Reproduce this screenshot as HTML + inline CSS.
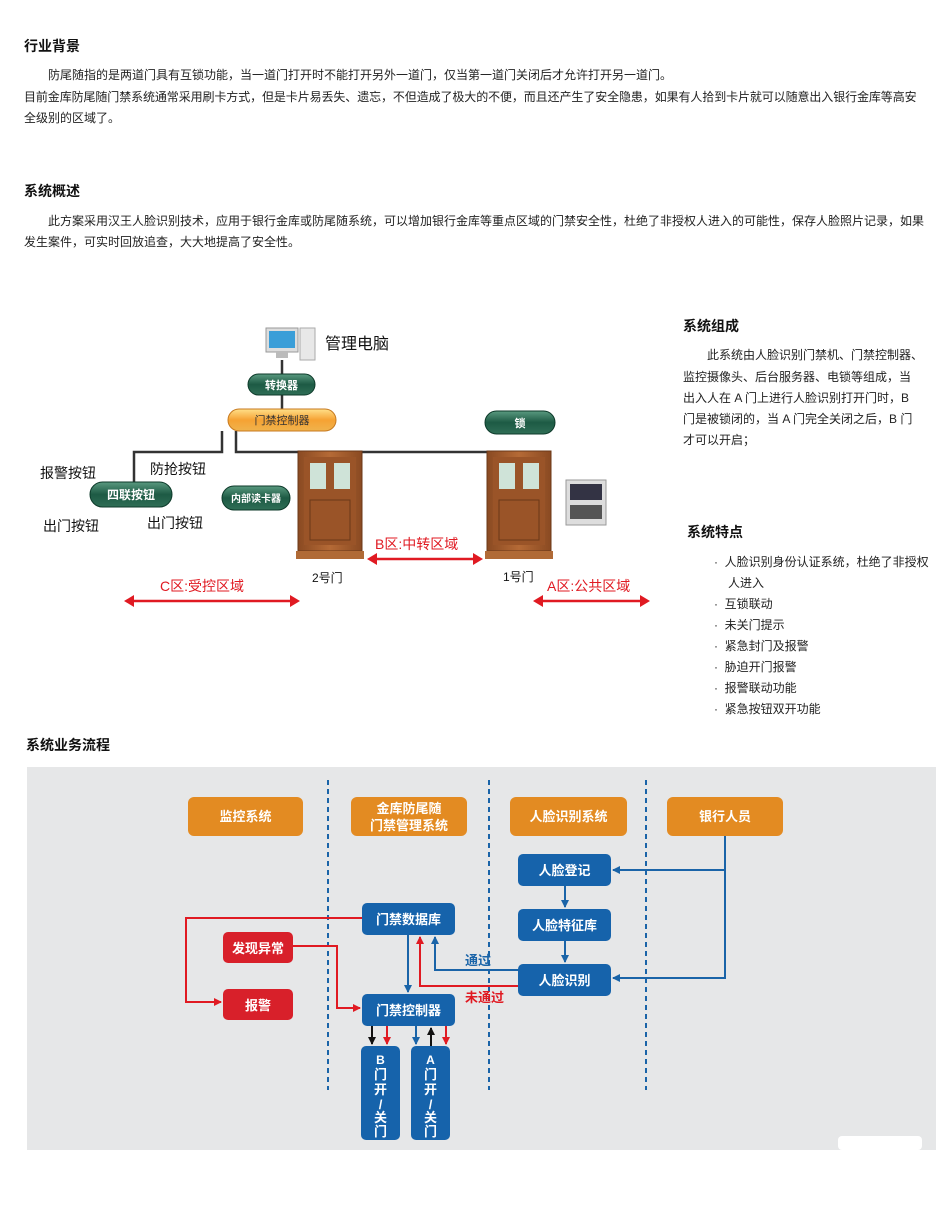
<!DOCTYPE html>
<html><head><meta charset="utf-8">
<style>
body{margin:0;width:942px;height:1215px;background:#fff;position:relative;overflow:hidden;font-family:"Liberation Sans","Noto Sans CJK SC",sans-serif;color:#222}
.t{position:absolute;font-size:12px;white-space:nowrap;line-height:14px}
.h{position:absolute;font-size:14px;font-weight:bold;color:#111;white-space:nowrap;line-height:16px}
svg text{font-family:"Liberation Sans","Noto Sans CJK SC",sans-serif}
</style></head><body>
<div class="h" style="left:24px;top:38px">行业背景</div>
<div class="t" style="left:48px;top:68px">防尾随指的是两道门具有互锁功能，当一道门打开时不能打开另外一道门，仅当第一道门关闭后才允许打开另一道门。</div>
<div class="t" style="left:24px;top:90px;letter-spacing:-0.1px">目前金库防尾随门禁系统通常采用刷卡方式，但是卡片易丢失、遗忘，不但造成了极大的不便，而且还产生了安全隐患，如果有人拾到卡片就可以随意出入银行金库等高安</div>
<div class="t" style="left:24px;top:111px">全级别的区域了。</div>
<div class="h" style="left:24px;top:183px">系统概述</div>
<div class="t" style="left:48px;top:214px">此方案采用汉王人脸识别技术，应用于银行金库或防尾随系统，可以增加银行金库等重点区域的门禁安全性，杜绝了非授权人进入的可能性，保存人脸照片记录，如果</div>
<div class="t" style="left:24px;top:235px">发生案件，可实时回放追查，大大地提高了安全性。</div>

<div class="h" style="left:683px;top:318px">系统组成</div>
<div class="t" style="left:707px;top:348px">此系统由人脸识别门禁机、门禁控制器、</div>
<div class="t" style="left:683px;top:370px">监控摄像头、后台服务器、电锁等组成，当</div>
<div class="t" style="left:683px;top:391px">出入人在 A 门上进行人脸识别打开门时，B</div>
<div class="t" style="left:683px;top:412px">门是被锁闭的，当 A 门完全关闭之后，B 门</div>
<div class="t" style="left:683px;top:433px">才可以开启；</div>
<div class="h" style="left:687px;top:524px">系统特点</div>
<div class="t" style="left:714px;top:555px">·&nbsp; 人脸识别身份认证系统，杜绝了非授权</div>
<div class="t" style="left:728px;top:576px">人进入</div>
<div class="t" style="left:714px;top:597px">·&nbsp; 互锁联动</div>
<div class="t" style="left:714px;top:618px">·&nbsp; 未关门提示</div>
<div class="t" style="left:714px;top:639px">·&nbsp; 紧急封门及报警</div>
<div class="t" style="left:714px;top:660px">·&nbsp; 胁迫开门报警</div>
<div class="t" style="left:714px;top:681px">·&nbsp; 报警联动功能</div>
<div class="t" style="left:714px;top:702px">·&nbsp; 紧急按钮双开功能</div>
<div class="h" style="left:26px;top:737px">系统业务流程</div>

<svg width="942" height="1215" style="position:absolute;left:0;top:0">
<defs>
<linearGradient id="g" x1="0" y1="0" x2="0" y2="1"><stop offset="0" stop-color="#5a9a80"/><stop offset="0.5" stop-color="#1d5a44"/><stop offset="1" stop-color="#2f6e56"/></linearGradient>
<linearGradient id="o" x1="0" y1="0" x2="0" y2="1"><stop offset="0" stop-color="#ffe08a"/><stop offset="0.5" stop-color="#f6a233"/><stop offset="1" stop-color="#f0b34d"/></linearGradient>
<linearGradient id="d" x1="0" y1="0" x2="1" y2="0"><stop offset="0" stop-color="#8a4a22"/><stop offset="0.5" stop-color="#b56a36"/><stop offset="1" stop-color="#8a4a22"/></linearGradient>
<marker id="ar" markerWidth="8" markerHeight="8" refX="7" refY="4" orient="auto" markerUnits="userSpaceOnUse"><path d="M0,0L8,4L0,8z" fill="#e01a22"/></marker>
<marker id="ab" markerWidth="8" markerHeight="8" refX="7" refY="4" orient="auto" markerUnits="userSpaceOnUse"><path d="M0,0L8,4L0,8z" fill="#1a64a8"/></marker>
<marker id="ak" markerWidth="8" markerHeight="8" refX="7" refY="4" orient="auto" markerUnits="userSpaceOnUse"><path d="M0,0L8,4L0,8z" fill="#111"/></marker>
</defs>
<rect x="266" y="328" width="32" height="24" fill="#ddd" stroke="#999"/><rect x="269" y="331" width="26" height="17" fill="#3a9ed8"/>
<rect x="276" y="352" width="12" height="6" fill="#bbb"/><rect x="300" y="328" width="15" height="32" fill="#e8e8e8" stroke="#aaa"/>
<text x="325" y="349" font-size="16" fill="#111">管理电脑</text>
<g stroke="#333" stroke-width="2.5" fill="none">
<path d="M282 360V374M282 395V409M222 431V452H134V482M236 431V452H490"/>
</g>
<rect x="248" y="374" width="67" height="21" rx="10.5" fill="url(#g)" stroke="#0d3a2a"/><text x="281.5" y="389" font-size="11" fill="#fff" text-anchor="middle" font-weight="bold">转换器</text>
<rect x="228" y="409" width="108" height="22" rx="11" fill="url(#o)" stroke="#c77a20"/><text x="282" y="424" font-size="11" fill="#333" text-anchor="middle">门禁控制器</text>
<rect x="485" y="411" width="70" height="23" rx="11.5" fill="url(#g)" stroke="#0d3a2a"/><text x="520" y="427" font-size="11" fill="#fff" text-anchor="middle" font-weight="bold">锁</text>
<rect x="90" y="482" width="82" height="25" rx="12.5" fill="url(#g)" stroke="#0d3a2a"/><text x="131" y="499" font-size="12" fill="#fff" text-anchor="middle" font-weight="bold">四联按钮</text>
<rect x="222" y="486" width="68" height="24" rx="12" fill="url(#g)" stroke="#0d3a2a"/><text x="256" y="502" font-size="10" fill="#fff" text-anchor="middle" font-weight="bold">内部读卡器</text>
<g font-size="14" fill="#111"><text x="40" y="478">报警按钮</text><text x="150" y="474">防抢按钮</text><text x="43" y="531">出门按钮</text><text x="147" y="528">出门按钮</text></g>
<g>
<rect x="298" y="451" width="64" height="100" fill="url(#d)" stroke="#6b3818"/><rect x="304" y="457" width="52" height="88" fill="#9a5428"/>
<rect x="310" y="463" width="16" height="26" fill="#cfe3d8"/><rect x="334" y="463" width="16" height="26" fill="#cfe3d8"/>
<rect x="310" y="500" width="40" height="40" fill="none" stroke="#6b3818"/><rect x="296" y="551" width="68" height="8" fill="#b06a36"/>
<rect x="487" y="451" width="64" height="100" fill="url(#d)" stroke="#6b3818"/><rect x="493" y="457" width="52" height="88" fill="#9a5428"/>
<rect x="499" y="463" width="16" height="26" fill="#cfe3d8"/><rect x="523" y="463" width="16" height="26" fill="#cfe3d8"/>
<rect x="499" y="500" width="40" height="40" fill="none" stroke="#6b3818"/><rect x="485" y="551" width="68" height="8" fill="#b06a36"/>
</g>
<rect x="566" y="480" width="40" height="45" fill="#ddd" stroke="#999"/><rect x="570" y="484" width="32" height="16" fill="#334"/><rect x="570" y="505" width="32" height="14" fill="#555"/>
<text x="312" y="582" font-size="12" fill="#111">2号门</text><text x="503" y="581" font-size="12" fill="#111">1号门</text>
<g font-size="14" fill="#e01a22"><text x="375" y="549">B区:中转区域</text><text x="160" y="591">C区:受控区域</text><text x="547" y="591">A区:公共区域</text></g>
<g stroke="#e01a22" stroke-width="2.5"><path d="M377 559H473"/><path d="M134 601H290"/><path d="M543 601H640"/></g>
<g fill="#e01a22"><path d="M367 559l10-6v12z"/><path d="M483 559l-10-6v12z"/><path d="M124 601l10-6v12z"/><path d="M300 601l-10-6v12z"/><path d="M533 601l10-6v12z"/><path d="M650 601l-10-6v12z"/></g>

<rect x="27" y="767" width="909" height="383" fill="#e6e7e8"/>
<rect x="838" y="1136" width="84" height="14" rx="4" fill="#fff"/>
<g stroke="#1a64a8" stroke-width="2" stroke-dasharray="5,4"><path d="M328 780V1090M489 780V1090M646 780V1090"/></g>
<g fill="#e38b22"><rect x="188" y="797" width="115" height="39" rx="6"/><rect x="351" y="797" width="116" height="39" rx="6"/><rect x="510" y="797" width="117" height="39" rx="6"/><rect x="667" y="797" width="116" height="39" rx="6"/></g>
<g fill="#fff" font-size="13" font-weight="bold" text-anchor="middle">
<text x="245.5" y="821">监控系统</text><text x="409" y="813">金库防尾随</text><text x="409" y="830">门禁管理系统</text><text x="568.5" y="821">人脸识别系统</text><text x="725" y="821">银行人员</text></g>
<g fill="#1663ab"><rect x="518" y="854" width="93" height="32" rx="5"/><rect x="518" y="909" width="93" height="32" rx="5"/><rect x="518" y="964" width="93" height="32" rx="5"/><rect x="362" y="903" width="93" height="32" rx="5"/><rect x="362" y="994" width="93" height="32" rx="5"/><rect x="361" y="1046" width="39" height="94" rx="5"/><rect x="411" y="1046" width="39" height="94" rx="5"/></g>
<g fill="#d8202a"><rect x="223" y="932" width="70" height="31" rx="5"/><rect x="223" y="989" width="70" height="31" rx="5"/></g>
<g fill="#fff" font-size="13" font-weight="bold" text-anchor="middle">
<text x="564.5" y="875">人脸登记</text><text x="564.5" y="930">人脸特征库</text><text x="564.5" y="985">人脸识别</text><text x="408.5" y="924">门禁数据库</text><text x="408.5" y="1015">门禁控制器</text><text x="258" y="953">发现异常</text><text x="258" y="1010">报警</text>
<text x="380.5" y="1064" font-size="12">B</text><text x="380.5" y="1079">门</text><text x="380.5" y="1094">开</text><text x="380.5" y="1109">/</text><text x="380.5" y="1122">关</text><text x="380.5" y="1136">门</text>
<text x="430.5" y="1064" font-size="12">A</text><text x="430.5" y="1079">门</text><text x="430.5" y="1094">开</text><text x="430.5" y="1109">/</text><text x="430.5" y="1122">关</text><text x="430.5" y="1136">门</text>
</g>
<g fill="none" stroke-width="2">
<path d="M725 836V978H613" stroke="#1a64a8" marker-end="url(#ab)"/>
<path d="M725 870H613" stroke="#1a64a8" marker-end="url(#ab)"/>
<path d="M565 886V907" stroke="#1a64a8" marker-end="url(#ab)"/>
<path d="M565 941V962" stroke="#1a64a8" marker-end="url(#ab)"/>
<path d="M518 970H435V937" stroke="#1a64a8" marker-end="url(#ab)"/>
<path d="M518 986H420V937" stroke="#e01a22" marker-end="url(#ar)"/>
<path d="M408 935V992" stroke="#1a64a8" marker-end="url(#ab)"/>
<path d="M362 918H186V1002H221" stroke="#e01a22" marker-end="url(#ar)"/>
<path d="M293 946H337V1008H360" stroke="#e01a22" marker-end="url(#ar)"/>
<path d="M372 1026V1044" stroke="#111" marker-end="url(#ak)"/>
<path d="M387 1026V1044" stroke="#e01a22" marker-end="url(#ar)"/>
<path d="M416 1026V1044" stroke="#1a64a8" marker-end="url(#ab)"/>
<path d="M431 1046V1028" stroke="#111" marker-end="url(#ak)"/>
<path d="M446 1026V1044" stroke="#e01a22" marker-end="url(#ar)"/>
</g>
<text x="465" y="965" font-size="13" font-weight="bold" fill="#1a64a8">通过</text>
<text x="465" y="1002" font-size="13" font-weight="bold" fill="#e01a22">未通过</text>
</svg>
</body></html>
